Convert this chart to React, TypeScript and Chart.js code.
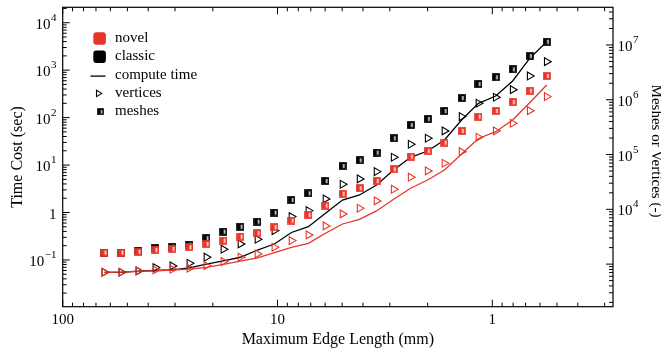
import React, { useEffect, useRef } from 'react';
import { Chart, registerables } from 'chart.js';

Chart.register(...registerables);

// ---------- data ----------
const edgeLength = [64, 53.33, 44.44, 37.04, 30.86, 25.72, 21.43, 17.86, 14.88, 12.4, 10.34, 8.61, 7.18, 5.98, 4.98, 4.15, 3.46, 2.88, 2.4, 2.0, 1.67, 1.39, 1.16, 0.964, 0.804, 0.67, 0.558];

const classicTime = [0.055, 0.055, 0.058, 0.06, 0.062, 0.068, 0.082, 0.096, 0.114, 0.162, 0.217, 0.379, 0.502, 0.96, 1.83, 2.34, 3.8, 7.87, 14.6, 19.8, 33.7, 89, 200, 285, 591, 1778, 3981];
const novelTime = [0.055, 0.0557, 0.0577, 0.0593, 0.0614, 0.0644, 0.07, 0.081, 0.095, 0.111, 0.142, 0.185, 0.224, 0.365, 0.573, 0.719, 1.08, 1.9, 3.24, 4.84, 7.87, 17.1, 36.3, 50.5, 89, 206, 486];

const classicMeshes = [1622, 1622, 1706, 1977, 2086, 2270, 2971, 3919, 4831, 5970, 8710, 14860, 19680, 32960, 61940, 78700, 108400, 198200, 346700, 446700, 625000, 1079000, 1941000, 2576000, 3602000, 6300000, 11480000];
const novelMeshes = [1622, 1622, 1690, 1816, 1893, 2033, 2338, 2685, 3177, 3664, 4714, 6223, 7907, 11690, 19330, 24270, 32960, 53950, 91570, 116400, 164900, 269700, 491800, 625000, 912000, 1466000, 2718000];

const classicVertices = [711, 711, 751, 863, 927, 1038, 1336, 1871, 2338, 2845, 4087, 7362, 9462, 15490, 28710, 35890, 48750, 89330, 154200, 198200, 269700, 491800, 863000, 1112000, 1528000, 2718000, 4955000];
const novelVertices = [711, 711, 751, 783, 807, 842, 939, 1112, 1336, 1535, 2033, 2685, 3412, 4977, 8241, 10470, 14220, 23280, 38550, 50220, 69340, 112900, 207000, 269700, 372400, 632500, 1140000];

const xTickValues = [100, 10, 1];
const xTickLabels = ['100', '10', '1'];
const timeTickValues = [0.1, 1, 10, 100, 1000, 10000];
const timeTickExponents = ['\u22121', '', '1', '2', '3', '4'];
const countTickValues = [1e4, 1e5, 1e6, 1e7];
const countTickExponents = ['4', '5', '6', '7'];

const legendLabels = ['novel', 'classic', 'compute time', 'vertices', 'meshes'];

const RED = '#e8352a';
const BLACK = '#000000';
const FONT = '"Liberation Serif", "Times New Roman", serif';

function pts(ys: number[]) {
  return edgeLength.map((x, i) => ({ x, y: ys[i] }));
}

function makeSquare(color: string, faint: string) {
  const c = document.createElement('canvas');
  c.width = 8;
  c.height = 8;
  const g = c.getContext('2d')!;
  g.fillStyle = faint;
  g.fillRect(0, 0, 8, 8);
  g.fillStyle = color;
  g.fillRect(0.5, 0.5, 7, 7);
  g.fillStyle = '#ffffff';
  g.fillRect(4.5, 2, 1.4, 4.2);
  return c;
}

function logTicks(min: number, max: number) {
  const out: { v: number; major: boolean }[] = [];
  for (let e = Math.floor(Math.log10(min)); e <= Math.ceil(Math.log10(max)); e++) {
    for (let m = 1; m < 10; m++) {
      const v = m * Math.pow(10, e);
      if (v >= min * 0.999 && v <= max * 1.001) out.push({ v, major: m === 1 });
    }
  }
  return out;
}

const X_MIN = 0.2742, X_MAX = 100;
const Y_MIN = 0.01035, Y_MAX = 21135;
const Y2_MIN = 167, Y2_MAX = 4.87e7;

const framePlugin = {
  id: 'framePlugin',
  afterDraw(chart: any) {
    const { ctx, chartArea: a, scales } = chart;
    const xs = scales.x, yl = scales.y, yr = scales.y2;
    ctx.save();
    ctx.strokeStyle = '#000';
    ctx.lineWidth = 1.2;
    ctx.strokeRect(a.left, a.top, a.right - a.left, a.bottom - a.top);

    ctx.lineWidth = 1;
    ctx.beginPath();
    for (const t of logTicks(X_MIN, X_MAX)) {
      const px = xs.getPixelForValue(t.v);
      const len = t.major ? 7 : 4;
      ctx.moveTo(px, a.bottom);
      ctx.lineTo(px, a.bottom - len);
      ctx.moveTo(px, a.top);
      ctx.lineTo(px, a.top + len);
    }
    for (const t of logTicks(Y_MIN, Y_MAX)) {
      const py = yl.getPixelForValue(t.v);
      const len = t.major ? 7 : 4;
      ctx.moveTo(a.left, py);
      ctx.lineTo(a.left + len, py);
    }
    for (const t of logTicks(Y2_MIN, Y2_MAX)) {
      const py = yr.getPixelForValue(t.v);
      const len = t.major ? 7 : 4;
      ctx.moveTo(a.right, py);
      ctx.lineTo(a.right - len, py);
    }
    ctx.stroke();

    ctx.fillStyle = '#000';
    ctx.font = `15px ${FONT}`;
    ctx.textAlign = 'center';
    ctx.textBaseline = 'alphabetic';
    xTickValues.forEach((v, i) => {
      ctx.fillText(xTickLabels[i], xs.getPixelForValue(v), 323.5);
    });

    const drawPow = (exp: string, x: number, y: number, align: 'left' | 'right') => {
      const base = exp === '' ? '1' : '10';
      ctx.font = `15px ${FONT}`;
      const bw = ctx.measureText(base).width;
      ctx.font = `11px ${FONT}`;
      const ew = exp === '' ? 0 : ctx.measureText(exp).width + 0.5;
      const start = align === 'right' ? x - bw - ew : x;
      ctx.textAlign = 'left';
      ctx.font = `15px ${FONT}`;
      ctx.fillText(base, start, y + 6);
      if (exp !== '') {
        ctx.font = `11px ${FONT}`;
        ctx.fillText(exp, start + bw + 0.5, y - 2);
      }
    };
    timeTickValues.forEach((v, i) => {
      drawPow(timeTickExponents[i], 56.5, yl.getPixelForValue(v), 'right');
    });
    countTickValues.forEach((v, i) => {
      drawPow(countTickExponents[i], 617.5, yr.getPixelForValue(v), 'left');
    });

    ctx.font = `16px ${FONT}`;
    ctx.textAlign = 'center';
    ctx.textBaseline = 'middle';
    ctx.fillText('Maximum Edge Length (mm)', (a.left + a.right) / 2, 340);
    ctx.save();
    ctx.translate(22, 157);
    ctx.rotate(-Math.PI / 2);
    ctx.textBaseline = 'alphabetic';
    ctx.fillText('Time Cost (sec)', 0, 0);
    ctx.restore();
    ctx.save();
    ctx.font = `15px ${FONT}`;
    ctx.translate(652, 151);
    ctx.rotate(Math.PI / 2);
    ctx.textBaseline = 'alphabetic';
    ctx.fillText('Meshes or Vertices (-)', 0, 0);
    ctx.restore();

    const rowY = (i: number) => 38.5 + 18.3 * i;
    const rr = (x: number, y: number, w: number, h: number, r: number, col: string) => {
      ctx.beginPath();
      ctx.moveTo(x + r, y);
      ctx.arcTo(x + w, y, x + w, y + h, r);
      ctx.arcTo(x + w, y + h, x, y + h, r);
      ctx.arcTo(x, y + h, x, y, r);
      ctx.arcTo(x, y, x + w, y, r);
      ctx.closePath();
      ctx.fillStyle = col;
      ctx.fill();
    };
    rr(93.3, rowY(0) - 6.3, 12.6, 12.6, 3, RED);
    rr(93.3, rowY(1) - 6.3, 12.6, 12.6, 3, BLACK);
    ctx.strokeStyle = '#000';
    ctx.lineWidth = 1.3;
    ctx.beginPath();
    ctx.moveTo(90.5, rowY(2) + 1);
    ctx.lineTo(105.5, rowY(2) + 1);
    ctx.stroke();
    const tx = 98.5, ty = rowY(3);
    ctx.lineWidth = 1.1;
    ctx.beginPath();
    ctx.moveTo(tx + 3.2, ty);
    ctx.lineTo(tx - 2, ty - 3.2);
    ctx.lineTo(tx - 2, ty + 3.2);
    ctx.closePath();
    ctx.stroke();
    const sq = makeSquare(BLACK, 'rgba(0,0,0,0.6)');
    ctx.drawImage(sq, 97, rowY(4) - 3.5, 7, 7);

    ctx.fillStyle = '#000';
    ctx.font = `15px ${FONT}`;
    ctx.textAlign = 'left';
    ctx.textBaseline = 'middle';
    legendLabels.forEach((t, i) => ctx.fillText(t, 115, rowY(i) - 0.5));
    ctx.restore();
  },
};

export default function App() {
  const ref = useRef<HTMLCanvasElement>(null);
  useEffect(() => {
    const canvas = ref.current!;
    const redSq = makeSquare(RED, 'rgba(232,53,42,0.7)');
    const blackSq = makeSquare(BLACK, 'rgba(0,0,0,0.7)');
    const lineDs = (label: string, data: number[], color: string, order: number) => ({
      label,
      data: pts(data),
      yAxisID: 'y',
      showLine: true,
      borderColor: color,
      backgroundColor: color,
      borderWidth: 1.3,
      pointRadius: 0,
      tension: 0,
      order,
    });
    const triDs = (label: string, data: number[], color: string, order: number) => ({
      label,
      data: pts(data),
      yAxisID: 'y2',
      showLine: false,
      pointStyle: 'triangle',
      pointRotation: 90,
      pointRadius: 4.5,
      pointBorderWidth: 1.1,
      pointBorderColor: color,
      pointBackgroundColor: 'rgba(0,0,0,0)',
      order,
    });
    const sqDs = (label: string, data: number[], img: HTMLCanvasElement, order: number) => ({
      label,
      data: pts(data),
      yAxisID: 'y2',
      showLine: false,
      pointStyle: img,
      pointRadius: 4,
      order,
    });
    const chart = new Chart(canvas, {
      type: 'scatter',
      data: {
        datasets: [
          lineDs('classic time', classicTime, BLACK, 5),
          lineDs('novel time', novelTime, RED, 4),
          triDs('classic vertices', classicVertices, BLACK, 3),
          triDs('novel vertices', novelVertices, RED, 2),
          sqDs('classic meshes', classicMeshes, blackSq, 1),
          sqDs('novel meshes', novelMeshes, redSq, 0),
        ] as any,
      },
      options: {
        responsive: false,
        animation: false,
        devicePixelRatio: 1,
        layout: { padding: { left: 62.7, right: 48, top: 7.3, bottom: 49.3 } },
        plugins: { legend: { display: false }, tooltip: { enabled: false } },
        scales: {
          x: { type: 'logarithmic', reverse: true, min: X_MIN, max: X_MAX, display: false },
          y: { type: 'logarithmic', min: Y_MIN, max: Y_MAX, display: false },
          y2: { type: 'logarithmic', min: Y2_MIN, max: Y2_MAX, display: false, position: 'right' },
        },
      } as any,
      plugins: [framePlugin],
    });
    return () => chart.destroy();
  }, []);
  return (
    <div style={{ position: 'fixed', left: 0, top: 0, width: 661, height: 356, background: '#fff' }}>
      <canvas ref={ref} width={661} height={356} style={{ display: 'block' }} />
    </div>
  );
}
